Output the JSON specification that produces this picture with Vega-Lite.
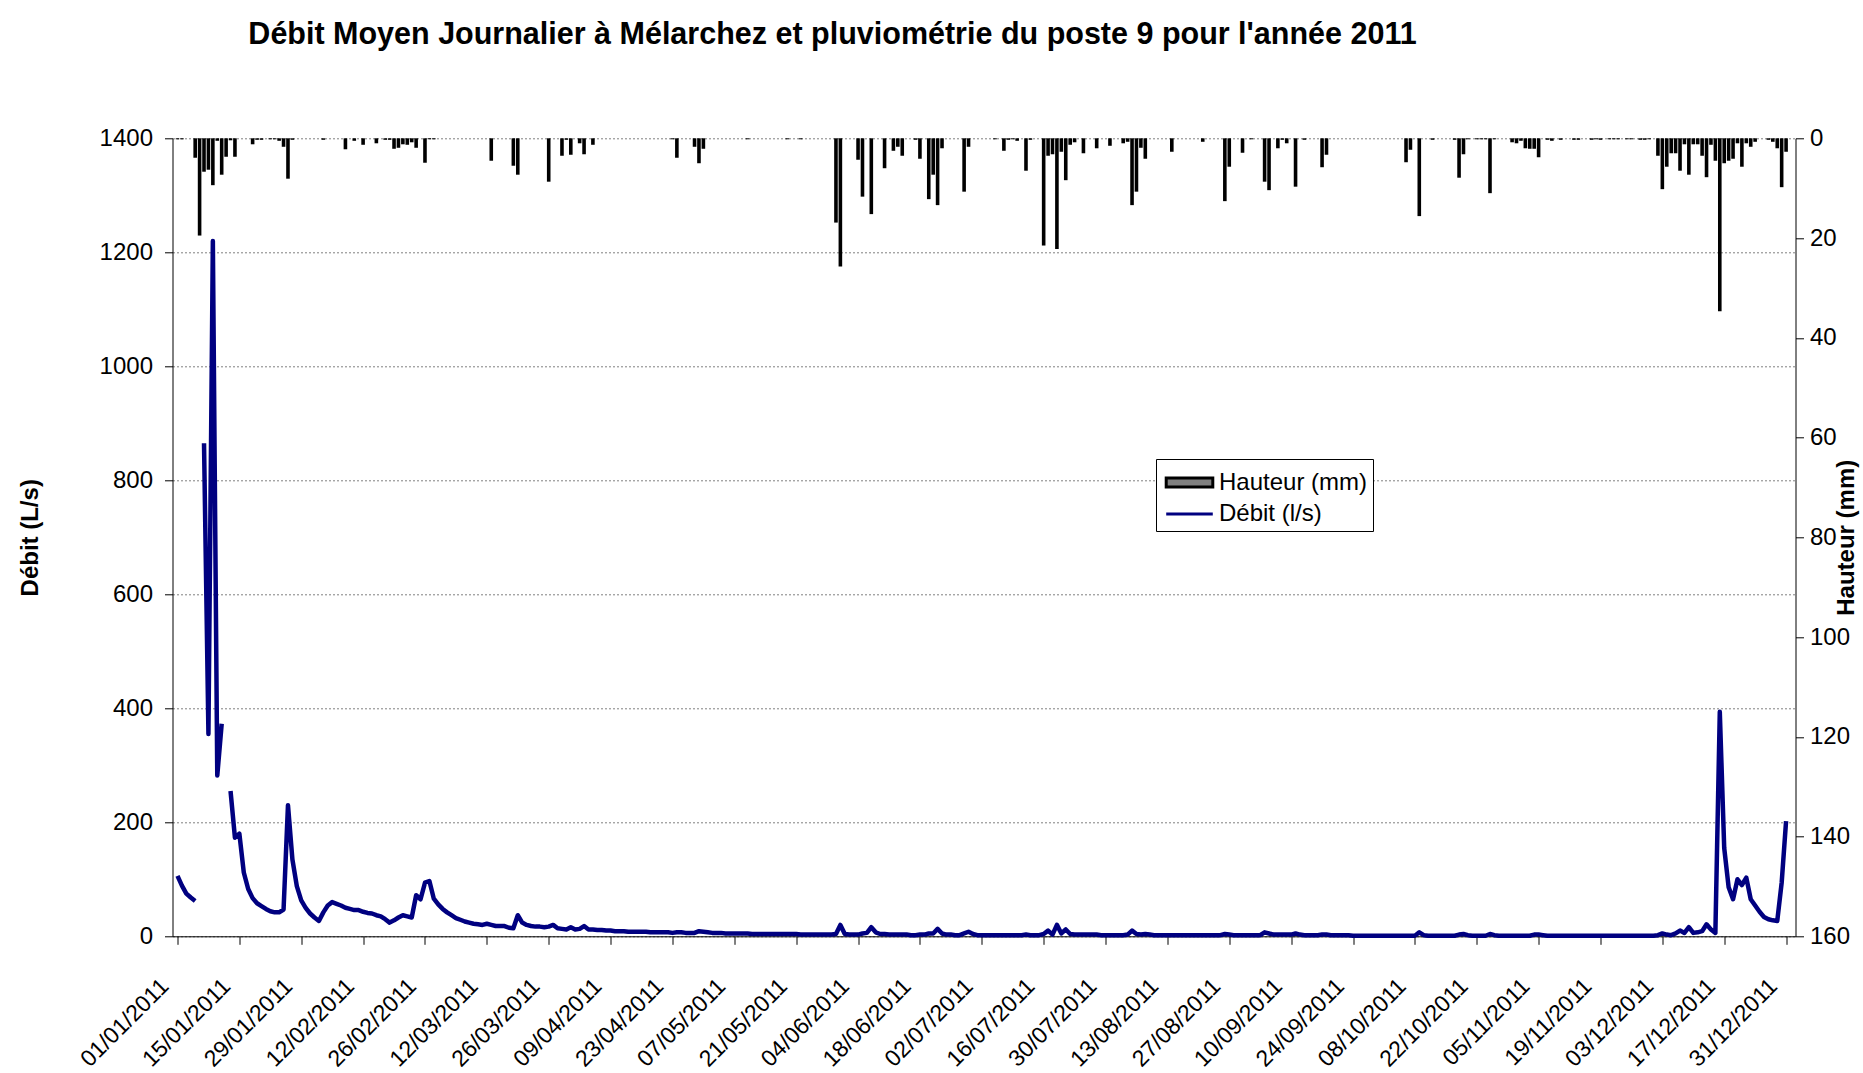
{
  "$schema": "https://vega.github.io/schema/vega-lite/v6.json",
  "width": 1623,
  "height": 798,
  "autosize": {"type": "none"},
  "padding": {"left": 172.5, "top": 138.3, "right": 67.5, "bottom": 136.7},
  "background": "white",
  "title": {
    "text": "Débit Moyen Journalier à Mélarchez et pluviométrie du poste 9 pour l'année 2011",
    "font": "Liberation Sans", "fontSize": 30.5, "fontWeight": "bold", "color": "black",
    "anchor": "middle", "frame": "group", "dx": -151.5, "offset": 52, "baseline": "alphabetic"
  },
  "config": {
    "view": {"stroke": null},
    "font": "Liberation Sans",
    "axis": {"labelFont": "Liberation Sans", "titleFont": "Liberation Sans", "labelColor": "black", "titleColor": "black", "domainColor": "black", "tickColor": "black", "tickSize": 8, "labelFontSize": 24}
  },
  "datasets": {
    "debit": [
      {"d":"2011-01-01","q":106},{"d":"2011-01-02","q":89},{"d":"2011-01-03","q":75},{"d":"2011-01-04","q":68},{"d":"2011-01-05","q":62},{"d":"2011-01-06","q":null},{"d":"2011-01-07","q":865},{"d":"2011-01-08","q":355},{"d":"2011-01-09","q":1220},{"d":"2011-01-10","q":282},{"d":"2011-01-11","q":373},{"d":"2011-01-12","q":null},{"d":"2011-01-13","q":255},{"d":"2011-01-14","q":173},{"d":"2011-01-15","q":180},{"d":"2011-01-16","q":112},{"d":"2011-01-17","q":83},{"d":"2011-01-18","q":67},{"d":"2011-01-19","q":58},{"d":"2011-01-20","q":53},{"d":"2011-01-21","q":48},{"d":"2011-01-22","q":44},{"d":"2011-01-23","q":42},{"d":"2011-01-24","q":42},{"d":"2011-01-25","q":47},{"d":"2011-01-26","q":230},{"d":"2011-01-27","q":135},{"d":"2011-01-28","q":88},{"d":"2011-01-29","q":63},{"d":"2011-01-30","q":50},{"d":"2011-01-31","q":40},
      {"d":"2011-02-01","q":33},{"d":"2011-02-02","q":27},{"d":"2011-02-03","q":42},{"d":"2011-02-04","q":54},{"d":"2011-02-05","q":60},{"d":"2011-02-06","q":57},{"d":"2011-02-07","q":54},{"d":"2011-02-08","q":50},{"d":"2011-02-09","q":48},{"d":"2011-02-10","q":46},{"d":"2011-02-11","q":46},{"d":"2011-02-12","q":43},{"d":"2011-02-13","q":41},{"d":"2011-02-14","q":40},{"d":"2011-02-15","q":37},{"d":"2011-02-16","q":35},{"d":"2011-02-17","q":30},{"d":"2011-02-18","q":24},{"d":"2011-02-19","q":28},{"d":"2011-02-20","q":33},{"d":"2011-02-21","q":37},{"d":"2011-02-22","q":35},{"d":"2011-02-23","q":33},{"d":"2011-02-24","q":72},{"d":"2011-02-25","q":65},{"d":"2011-02-26","q":94},{"d":"2011-02-27","q":97},{"d":"2011-02-28","q":66},
      {"d":"2011-03-01","q":56},{"d":"2011-03-02","q":48},{"d":"2011-03-03","q":42},{"d":"2011-03-04","q":37},{"d":"2011-03-05","q":32},{"d":"2011-03-06","q":29},{"d":"2011-03-07","q":26},{"d":"2011-03-08","q":24},{"d":"2011-03-09","q":22},{"d":"2011-03-10","q":21},{"d":"2011-03-11","q":20},{"d":"2011-03-12","q":22},{"d":"2011-03-13","q":20},{"d":"2011-03-14","q":18},{"d":"2011-03-15","q":18},{"d":"2011-03-16","q":18},{"d":"2011-03-17","q":15},{"d":"2011-03-18","q":14},{"d":"2011-03-19","q":37},{"d":"2011-03-20","q":24},{"d":"2011-03-21","q":20},{"d":"2011-03-22","q":18},{"d":"2011-03-23","q":17},{"d":"2011-03-24","q":17},{"d":"2011-03-25","q":16},{"d":"2011-03-26","q":17},{"d":"2011-03-27","q":20},{"d":"2011-03-28","q":14},{"d":"2011-03-29","q":13},{"d":"2011-03-30","q":12},{"d":"2011-03-31","q":16},
      {"d":"2011-04-01","q":12},{"d":"2011-04-02","q":13},{"d":"2011-04-03","q":18},{"d":"2011-04-04","q":12},{"d":"2011-04-05","q":12},{"d":"2011-04-06","q":11},{"d":"2011-04-07","q":11},{"d":"2011-04-08","q":10},{"d":"2011-04-09","q":10},{"d":"2011-04-10","q":9},{"d":"2011-04-11","q":9},{"d":"2011-04-12","q":9},{"d":"2011-04-13","q":8},{"d":"2011-04-14","q":8},{"d":"2011-04-15","q":8},{"d":"2011-04-16","q":8},{"d":"2011-04-17","q":8},{"d":"2011-04-18","q":7},{"d":"2011-04-19","q":7},{"d":"2011-04-20","q":7},{"d":"2011-04-21","q":7},{"d":"2011-04-22","q":7},{"d":"2011-04-23","q":6},{"d":"2011-04-24","q":7},{"d":"2011-04-25","q":7},{"d":"2011-04-26","q":6},{"d":"2011-04-27","q":6},{"d":"2011-04-28","q":6},{"d":"2011-04-29","q":9},{"d":"2011-04-30","q":8},
      {"d":"2011-05-01","q":7},{"d":"2011-05-02","q":6},{"d":"2011-05-03","q":6},{"d":"2011-05-04","q":6},{"d":"2011-05-05","q":5},{"d":"2011-05-06","q":5},{"d":"2011-05-07","q":5},{"d":"2011-05-08","q":5},{"d":"2011-05-09","q":5},{"d":"2011-05-10","q":5},{"d":"2011-05-11","q":4},{"d":"2011-05-12","q":4},{"d":"2011-05-13","q":4},{"d":"2011-05-14","q":4},{"d":"2011-05-15","q":4},{"d":"2011-05-16","q":4},{"d":"2011-05-17","q":4},{"d":"2011-05-18","q":4},{"d":"2011-05-19","q":4},{"d":"2011-05-20","q":4},{"d":"2011-05-21","q":4},{"d":"2011-05-22","q":3},{"d":"2011-05-23","q":3},{"d":"2011-05-24","q":3},{"d":"2011-05-25","q":3},{"d":"2011-05-26","q":3},{"d":"2011-05-27","q":3},{"d":"2011-05-28","q":3},{"d":"2011-05-29","q":3},{"d":"2011-05-30","q":4},{"d":"2011-05-31","q":20},
      {"d":"2011-06-01","q":4},{"d":"2011-06-02","q":3},{"d":"2011-06-03","q":3},{"d":"2011-06-04","q":3},{"d":"2011-06-05","q":5},{"d":"2011-06-06","q":6},{"d":"2011-06-07","q":16},{"d":"2011-06-08","q":7},{"d":"2011-06-09","q":4},{"d":"2011-06-10","q":4},{"d":"2011-06-11","q":3},{"d":"2011-06-12","q":3},{"d":"2011-06-13","q":3},{"d":"2011-06-14","q":3},{"d":"2011-06-15","q":3},{"d":"2011-06-16","q":2},{"d":"2011-06-17","q":2},{"d":"2011-06-18","q":3},{"d":"2011-06-19","q":3},{"d":"2011-06-20","q":5},{"d":"2011-06-21","q":5},{"d":"2011-06-22","q":13},{"d":"2011-06-23","q":5},{"d":"2011-06-24","q":3},{"d":"2011-06-25","q":3},{"d":"2011-06-26","q":2},{"d":"2011-06-27","q":2},{"d":"2011-06-28","q":5},{"d":"2011-06-29","q":8},{"d":"2011-06-30","q":4},
      {"d":"2011-07-01","q":2},{"d":"2011-07-02","q":2},{"d":"2011-07-03","q":2},{"d":"2011-07-04","q":2},{"d":"2011-07-05","q":2},{"d":"2011-07-06","q":2},{"d":"2011-07-07","q":2},{"d":"2011-07-08","q":2},{"d":"2011-07-09","q":2},{"d":"2011-07-10","q":2},{"d":"2011-07-11","q":2},{"d":"2011-07-12","q":3},{"d":"2011-07-13","q":2},{"d":"2011-07-14","q":2},{"d":"2011-07-15","q":2},{"d":"2011-07-16","q":4},{"d":"2011-07-17","q":10},{"d":"2011-07-18","q":3},{"d":"2011-07-19","q":20},{"d":"2011-07-20","q":5},{"d":"2011-07-21","q":12},{"d":"2011-07-22","q":4},{"d":"2011-07-23","q":3},{"d":"2011-07-24","q":3},{"d":"2011-07-25","q":3},{"d":"2011-07-26","q":3},{"d":"2011-07-27","q":3},{"d":"2011-07-28","q":3},{"d":"2011-07-29","q":2},{"d":"2011-07-30","q":2},{"d":"2011-07-31","q":2},
      {"d":"2011-08-01","q":2},{"d":"2011-08-02","q":2},{"d":"2011-08-03","q":2},{"d":"2011-08-04","q":3},{"d":"2011-08-05","q":10},{"d":"2011-08-06","q":4},{"d":"2011-08-07","q":3},{"d":"2011-08-08","q":4},{"d":"2011-08-09","q":3},{"d":"2011-08-10","q":2},{"d":"2011-08-11","q":2},{"d":"2011-08-12","q":2},{"d":"2011-08-13","q":2},{"d":"2011-08-14","q":2},{"d":"2011-08-15","q":2},{"d":"2011-08-16","q":2},{"d":"2011-08-17","q":2},{"d":"2011-08-18","q":2},{"d":"2011-08-19","q":2},{"d":"2011-08-20","q":2},{"d":"2011-08-21","q":2},{"d":"2011-08-22","q":2},{"d":"2011-08-23","q":2},{"d":"2011-08-24","q":2},{"d":"2011-08-25","q":2},{"d":"2011-08-26","q":4},{"d":"2011-08-27","q":3},{"d":"2011-08-28","q":2},{"d":"2011-08-29","q":2},{"d":"2011-08-30","q":2},{"d":"2011-08-31","q":2},
      {"d":"2011-09-01","q":2},{"d":"2011-09-02","q":2},{"d":"2011-09-03","q":2},{"d":"2011-09-04","q":7},{"d":"2011-09-05","q":5},{"d":"2011-09-06","q":3},{"d":"2011-09-07","q":3},{"d":"2011-09-08","q":3},{"d":"2011-09-09","q":3},{"d":"2011-09-10","q":3},{"d":"2011-09-11","q":5},{"d":"2011-09-12","q":3},{"d":"2011-09-13","q":2},{"d":"2011-09-14","q":2},{"d":"2011-09-15","q":2},{"d":"2011-09-16","q":2},{"d":"2011-09-17","q":3},{"d":"2011-09-18","q":3},{"d":"2011-09-19","q":2},{"d":"2011-09-20","q":2},{"d":"2011-09-21","q":2},{"d":"2011-09-22","q":2},{"d":"2011-09-23","q":2},{"d":"2011-09-24","q":1},{"d":"2011-09-25","q":1},{"d":"2011-09-26","q":1},{"d":"2011-09-27","q":1},{"d":"2011-09-28","q":1},{"d":"2011-09-29","q":1},{"d":"2011-09-30","q":1},
      {"d":"2011-10-01","q":1},{"d":"2011-10-02","q":1},{"d":"2011-10-03","q":1},{"d":"2011-10-04","q":1},{"d":"2011-10-05","q":1},{"d":"2011-10-06","q":1},{"d":"2011-10-07","q":1},{"d":"2011-10-08","q":1},{"d":"2011-10-09","q":7},{"d":"2011-10-10","q":2},{"d":"2011-10-11","q":1},{"d":"2011-10-12","q":1},{"d":"2011-10-13","q":1},{"d":"2011-10-14","q":1},{"d":"2011-10-15","q":1},{"d":"2011-10-16","q":1},{"d":"2011-10-17","q":1},{"d":"2011-10-18","q":3},{"d":"2011-10-19","q":4},{"d":"2011-10-20","q":2},{"d":"2011-10-21","q":1},{"d":"2011-10-22","q":1},{"d":"2011-10-23","q":1},{"d":"2011-10-24","q":1},{"d":"2011-10-25","q":4},{"d":"2011-10-26","q":2},{"d":"2011-10-27","q":1},{"d":"2011-10-28","q":1},{"d":"2011-10-29","q":1},{"d":"2011-10-30","q":1},{"d":"2011-10-31","q":1},
      {"d":"2011-11-01","q":1},{"d":"2011-11-02","q":1},{"d":"2011-11-03","q":1},{"d":"2011-11-04","q":3},{"d":"2011-11-05","q":3},{"d":"2011-11-06","q":2},{"d":"2011-11-07","q":1},{"d":"2011-11-08","q":1},{"d":"2011-11-09","q":1},{"d":"2011-11-10","q":1},{"d":"2011-11-11","q":1},{"d":"2011-11-12","q":1},{"d":"2011-11-13","q":1},{"d":"2011-11-14","q":1},{"d":"2011-11-15","q":1},{"d":"2011-11-16","q":1},{"d":"2011-11-17","q":1},{"d":"2011-11-18","q":1},{"d":"2011-11-19","q":1},{"d":"2011-11-20","q":1},{"d":"2011-11-21","q":1},{"d":"2011-11-22","q":1},{"d":"2011-11-23","q":1},{"d":"2011-11-24","q":1},{"d":"2011-11-25","q":1},{"d":"2011-11-26","q":1},{"d":"2011-11-27","q":1},{"d":"2011-11-28","q":1},{"d":"2011-11-29","q":1},{"d":"2011-11-30","q":1},
      {"d":"2011-12-01","q":1},{"d":"2011-12-02","q":2},{"d":"2011-12-03","q":5},{"d":"2011-12-04","q":3},{"d":"2011-12-05","q":2},{"d":"2011-12-06","q":5},{"d":"2011-12-07","q":10},{"d":"2011-12-08","q":6},{"d":"2011-12-09","q":16},{"d":"2011-12-10","q":6},{"d":"2011-12-11","q":7},{"d":"2011-12-12","q":9},{"d":"2011-12-13","q":21},{"d":"2011-12-14","q":12},{"d":"2011-12-15","q":6},{"d":"2011-12-16","q":394},{"d":"2011-12-17","q":155},{"d":"2011-12-18","q":86},{"d":"2011-12-19","q":65},{"d":"2011-12-20","q":100},{"d":"2011-12-21","q":90},{"d":"2011-12-22","q":103},{"d":"2011-12-23","q":65},{"d":"2011-12-24","q":54},{"d":"2011-12-25","q":43},{"d":"2011-12-26","q":34},{"d":"2011-12-27","q":30},{"d":"2011-12-28","q":28},{"d":"2011-12-29","q":27},{"d":"2011-12-30","q":94},{"d":"2011-12-31","q":202}
    ],
    "pluie": [
      {"d":"2011-01-01","h":0.2},{"d":"2011-01-02","h":0.2},{"d":"2011-01-05","h":3.9},{"d":"2011-01-06","h":19.5},{"d":"2011-01-07","h":6.7},{"d":"2011-01-08","h":6.3},{"d":"2011-01-09","h":9.4},{"d":"2011-01-10","h":0.5},{"d":"2011-01-11","h":7.3},{"d":"2011-01-12","h":3.7},{"d":"2011-01-13","h":0.4},{"d":"2011-01-14","h":3.7},{"d":"2011-01-18","h":1.2},{"d":"2011-01-19","h":0.3},{"d":"2011-01-20","h":0.3},{"d":"2011-01-22","h":0.2},{"d":"2011-01-23","h":0.2},{"d":"2011-01-24","h":0.5},{"d":"2011-01-25","h":1.7},{"d":"2011-01-26","h":8.1},{"d":"2011-01-27","h":0.3},
      {"d":"2011-02-03","h":0.3},{"d":"2011-02-08","h":2.2},{"d":"2011-02-10","h":0.5},{"d":"2011-02-12","h":1.3},{"d":"2011-02-15","h":1.0},{"d":"2011-02-17","h":0.3},{"d":"2011-02-18","h":0.3},{"d":"2011-02-19","h":2.1},{"d":"2011-02-20","h":1.9},{"d":"2011-02-21","h":1.2},{"d":"2011-02-22","h":1.3},{"d":"2011-02-23","h":0.8},{"d":"2011-02-24","h":1.9},{"d":"2011-02-26","h":4.9},{"d":"2011-02-27","h":0.2},{"d":"2011-02-28","h":0.2},
      {"d":"2011-03-13","h":4.5},{"d":"2011-03-18","h":5.5},{"d":"2011-03-19","h":7.3},{"d":"2011-03-26","h":8.7},{"d":"2011-03-29","h":3.5},{"d":"2011-03-30","h":0.3},{"d":"2011-03-31","h":3.3},
      {"d":"2011-04-02","h":1.0},{"d":"2011-04-03","h":3.2},{"d":"2011-04-05","h":1.3},{"d":"2011-04-23","h":0.2},{"d":"2011-04-24","h":3.9},{"d":"2011-04-28","h":1.7},{"d":"2011-04-29","h":5.0},{"d":"2011-04-30","h":2.1},
      {"d":"2011-05-10","h":0.2},{"d":"2011-05-19","h":0.2},{"d":"2011-05-22","h":0.2},{"d":"2011-05-30","h":16.9},{"d":"2011-05-31","h":25.7},
      {"d":"2011-06-04","h":4.3},{"d":"2011-06-05","h":11.7},{"d":"2011-06-07","h":15.2},{"d":"2011-06-10","h":6.0},{"d":"2011-06-12","h":2.5},{"d":"2011-06-13","h":1.7},{"d":"2011-06-14","h":3.5},{"d":"2011-06-17","h":0.3},{"d":"2011-06-18","h":4.1},{"d":"2011-06-20","h":12.2},{"d":"2011-06-21","h":7.3},{"d":"2011-06-22","h":13.4},{"d":"2011-06-23","h":2.0},{"d":"2011-06-28","h":10.7},{"d":"2011-06-29","h":1.7},
      {"d":"2011-07-05","h":0.2},{"d":"2011-07-07","h":2.5},{"d":"2011-07-08","h":0.3},{"d":"2011-07-09","h":0.2},{"d":"2011-07-10","h":0.5},{"d":"2011-07-12","h":6.5},{"d":"2011-07-13","h":0.3},{"d":"2011-07-16","h":21.5},{"d":"2011-07-17","h":3.5},{"d":"2011-07-18","h":3.2},{"d":"2011-07-19","h":22.2},{"d":"2011-07-20","h":2.7},{"d":"2011-07-21","h":8.4},{"d":"2011-07-22","h":1.3},{"d":"2011-07-23","h":0.8},{"d":"2011-07-25","h":3.0},{"d":"2011-07-28","h":2.0},{"d":"2011-07-31","h":1.5},
      {"d":"2011-08-03","h":1.0},{"d":"2011-08-04","h":0.7},{"d":"2011-08-05","h":13.4},{"d":"2011-08-06","h":10.7},{"d":"2011-08-07","h":1.9},{"d":"2011-08-08","h":4.1},{"d":"2011-08-14","h":2.7},{"d":"2011-08-21","h":0.7},{"d":"2011-08-26","h":12.6},{"d":"2011-08-27","h":5.7},{"d":"2011-08-30","h":2.9},
      {"d":"2011-09-01","h":0.2},{"d":"2011-09-04","h":8.7},{"d":"2011-09-05","h":10.4},{"d":"2011-09-07","h":2.0},{"d":"2011-09-08","h":0.3},{"d":"2011-09-09","h":1.0},{"d":"2011-09-11","h":9.7},{"d":"2011-09-13","h":0.3},{"d":"2011-09-17","h":5.8},{"d":"2011-09-18","h":3.3},
      {"d":"2011-10-06","h":4.8},{"d":"2011-10-07","h":2.3},{"d":"2011-10-09","h":15.6},{"d":"2011-10-12","h":0.3},{"d":"2011-10-17","h":0.3},{"d":"2011-10-18","h":7.9},{"d":"2011-10-19","h":3.2},{"d":"2011-10-20","h":0.2},{"d":"2011-10-22","h":0.2},{"d":"2011-10-23","h":0.2},{"d":"2011-10-24","h":0.2},{"d":"2011-10-25","h":11.0},{"d":"2011-10-26","h":0.2},{"d":"2011-10-30","h":0.8},{"d":"2011-10-31","h":1.0},
      {"d":"2011-11-01","h":0.5},{"d":"2011-11-02","h":2.0},{"d":"2011-11-03","h":2.1},{"d":"2011-11-04","h":2.1},{"d":"2011-11-05","h":3.8},{"d":"2011-11-07","h":0.3},{"d":"2011-11-08","h":0.5},{"d":"2011-11-10","h":0.3},{"d":"2011-11-13","h":0.3},{"d":"2011-11-14","h":0.3},{"d":"2011-11-17","h":0.3},{"d":"2011-11-18","h":0.2},{"d":"2011-11-19","h":0.3},{"d":"2011-11-21","h":0.2},{"d":"2011-11-22","h":0.2},{"d":"2011-11-23","h":0.2},{"d":"2011-11-25","h":0.2},{"d":"2011-11-26","h":0.2},{"d":"2011-11-28","h":0.3},{"d":"2011-11-29","h":0.3},{"d":"2011-11-30","h":0.2},
      {"d":"2011-12-02","h":3.5},{"d":"2011-12-03","h":10.2},{"d":"2011-12-04","h":5.7},{"d":"2011-12-05","h":3.0},{"d":"2011-12-06","h":3.0},{"d":"2011-12-07","h":6.5},{"d":"2011-12-08","h":1.2},{"d":"2011-12-09","h":7.3},{"d":"2011-12-10","h":1.2},{"d":"2011-12-11","h":1.2},{"d":"2011-12-12","h":3.5},{"d":"2011-12-13","h":7.8},{"d":"2011-12-14","h":1.3},{"d":"2011-12-15","h":4.5},{"d":"2011-12-16","h":34.7},{"d":"2011-12-17","h":5.0},{"d":"2011-12-18","h":4.5},{"d":"2011-12-19","h":4.1},{"d":"2011-12-20","h":1.0},{"d":"2011-12-21","h":5.7},{"d":"2011-12-22","h":1.0},{"d":"2011-12-23","h":1.7},{"d":"2011-12-24","h":0.7},{"d":"2011-12-27","h":0.3},{"d":"2011-12-28","h":0.7},{"d":"2011-12-29","h":2.0},{"d":"2011-12-30","h":9.8},{"d":"2011-12-31","h":2.7}
    ]
  },
  "layer": [
    {
      "data": {"name": "pluie"},
      "mark": {"type": "bar", "size": 3.6, "color": "#000000"},
      "encoding": {
        "x": {
          "field": "d", "type": "temporal",
          "scale": {"type": "utc", "nice": false, "domain": [{"year": 2011, "month": 1, "date": 1, "utc": true}, {"year": 2012, "month": 1, "date": 1, "utc": true}]},
          "axis": {
            "title": null, "grid": false,
            "labelExpr": "utcFormat(datum.value, '%d/%m/%Y')",
            "labelAngle": -45, "labelAlign": "right", "labelBaseline": "middle",
            "labelPadding": 38, "labelOffset": -13, "labelFontSize": 23, "labelOverlap": false, "labelBound": false, "labelFlush": false,
            "values": [
              {"year":2011,"month":1,"date":1,"utc":true},{"year":2011,"month":1,"date":15,"utc":true},{"year":2011,"month":1,"date":29,"utc":true},
              {"year":2011,"month":2,"date":12,"utc":true},{"year":2011,"month":2,"date":26,"utc":true},{"year":2011,"month":3,"date":12,"utc":true},
              {"year":2011,"month":3,"date":26,"utc":true},{"year":2011,"month":4,"date":9,"utc":true},{"year":2011,"month":4,"date":23,"utc":true},
              {"year":2011,"month":5,"date":7,"utc":true},{"year":2011,"month":5,"date":21,"utc":true},{"year":2011,"month":6,"date":4,"utc":true},
              {"year":2011,"month":6,"date":18,"utc":true},{"year":2011,"month":7,"date":2,"utc":true},{"year":2011,"month":7,"date":16,"utc":true},
              {"year":2011,"month":7,"date":30,"utc":true},{"year":2011,"month":8,"date":13,"utc":true},{"year":2011,"month":8,"date":27,"utc":true},
              {"year":2011,"month":9,"date":10,"utc":true},{"year":2011,"month":9,"date":24,"utc":true},{"year":2011,"month":10,"date":8,"utc":true},
              {"year":2011,"month":10,"date":22,"utc":true},{"year":2011,"month":11,"date":5,"utc":true},{"year":2011,"month":11,"date":19,"utc":true},
              {"year":2011,"month":12,"date":3,"utc":true},{"year":2011,"month":12,"date":17,"utc":true},{"year":2011,"month":12,"date":31,"utc":true}
            ]
          }
        },
        "y": {
          "field": "h", "type": "quantitative",
          "scale": {"domain": [0, 160], "reverse": true, "nice": false, "zero": true},
          "axis": {
            "orient": "right", "values": [0, 20, 40, 60, 80, 100, 120, 140, 160], "grid": false, "format": "d",
            "labelPadding": 6, "labelFontSize": 24,
            "title": "Hauteur (mm)", "titleFontSize": 24, "titleFontWeight": "bold",
            "titleAngle": 270, "titleX": 51, "titleY": 399, "titleAlign": "center", "titleBaseline": "middle"
          }
        }
      }
    },
    {
      "data": {"name": "debit"},
      "mark": {"type": "line", "strokeWidth": 4.5, "strokeJoin": "round", "color": "#000080", "invalid": "break-paths-filter-domains"},
      "encoding": {
        "x": {
          "field": "d", "type": "temporal",
          "scale": {"type": "utc", "nice": false, "domain": [{"year": 2011, "month": 1, "date": 1, "utc": true}, {"year": 2012, "month": 1, "date": 1, "utc": true}]}
        },
        "y": {
          "field": "q", "type": "quantitative",
          "scale": {"domain": [0, 1400], "nice": false},
          "axis": {
            "orient": "left", "values": [0, 200, 400, 600, 800, 1000, 1200, 1400], "format": "d",
            "grid": true, "gridDash": [2, 2], "gridColor": "#808080", "gridWidth": 1,
            "labelPadding": 12, "labelFontSize": 24,
            "title": "Débit (L/s)", "titleFontSize": 24, "titleFontWeight": "bold",
            "titleAngle": 270, "titleX": -142.5, "titleY": 399, "titleAlign": "center", "titleBaseline": "middle"
          }
        }
      }
    },
    {
      "data": {"values": []},
      "mark": {"type": "point", "filled": false, "fill": "#808080", "strokeWidth": 3, "opacity": 1},
      "encoding": {
        "color": {
          "field": "serie", "type": "nominal",
          "scale": {"domain": ["Hauteur (mm)", "Débit (l/s)"], "range": ["#000000", "#000080"]},
          "legend": {
            "title": null, "orient": "none", "legendX": 983.5, "legendY": 320.7, "direction": "vertical",
            "strokeColor": "black", "fillColor": "white", "padding": 5,
            "symbolSize": 1156, "symbolOffset": 10, "labelOffset": 11, "rowPadding": 0.5,
            "symbolOpacity": 1, "symbolStrokeWidth": 3,
            "labelFont": "Liberation Sans", "labelFontSize": 24, "labelColor": "black",
            "labelExpr": "datum.label + '\u00a0\u00a0\u00a0\u00a0'"
          }
        },
        "shape": {
          "field": "serie", "type": "nominal",
          "scale": {"domain": ["Hauteur (mm)", "Débit (l/s)"], "range": ["M-1.37,-0.27H1.37V0.27H-1.37Z", "M-1.37,0H1.37"]},
          "legend": {
            "title": null, "orient": "none", "legendX": 983.5, "legendY": 320.7, "direction": "vertical",
            "strokeColor": "black", "fillColor": "white", "padding": 5,
            "symbolSize": 1156, "symbolOffset": 10, "labelOffset": 11, "rowPadding": 0.5,
            "symbolOpacity": 1, "symbolStrokeWidth": 3,
            "labelFont": "Liberation Sans", "labelFontSize": 24, "labelColor": "black",
            "labelExpr": "datum.label + '\u00a0\u00a0\u00a0\u00a0'"
          }
        }
      }
    }
  ],
  "resolve": {"scale": {"y": "independent"}}
}
